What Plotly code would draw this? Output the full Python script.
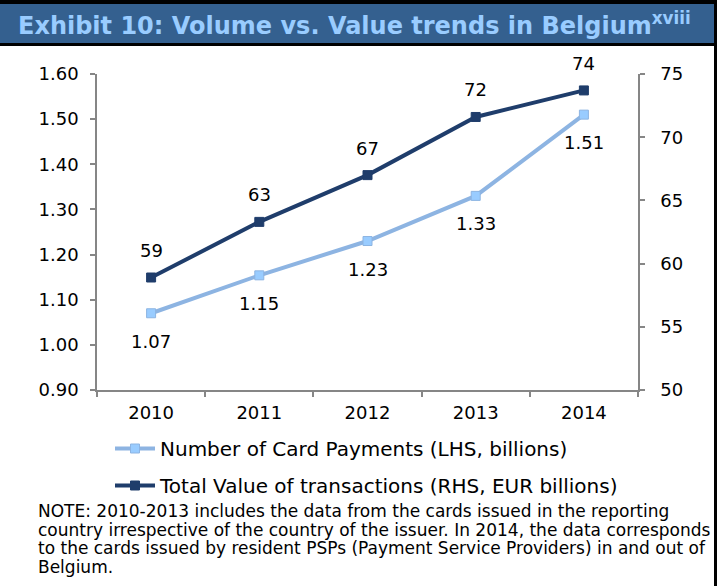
import plotly.graph_objects as go

years = ["2010", "2011", "2012", "2013", "2014"]
card_payments = [1.07, 1.154, 1.23, 1.33, 1.51]      # LHS, billions
total_value = [58.9, 63.3, 67.0, 71.6, 73.7]          # RHS, EUR billions
left_ticks = [0.90, 1.00, 1.10, 1.20, 1.30, 1.40, 1.50, 1.60]
right_ticks = [50, 55, 60, 65, 70, 75]
note_lines = [
    "NOTE: 2010-2013 includes the data from the cards issued in the reporting",
    "country irrespective of the country of the issuer. In 2014, the data corresponds",
    "to the cards issued by resident PSPs (Payment Service Providers) in and out of",
    "Belgium.",
]

W, H = 721, 586
L, R, T, B = 97, 638, 74, 390


def px2x(px):
    return (px - L) / (R - L)


def px2y(py):
    return (B - py) / (B - T)


FONT = "DejaVu Sans"
DARK = "#1F3D6B"
LIGHT = "#8DB4E2"
LIGHT_FILL = "#99CCFF"
AXIS = "#868686"

fig = go.Figure()
fig.add_trace(go.Scatter(
    x=years, y=card_payments, name="Number of Card Payments (LHS, billions)",
    mode="lines+markers", yaxis="y",
    line=dict(color=LIGHT, width=4),
    marker=dict(symbol="square", size=9, color=LIGHT_FILL, line=dict(color=LIGHT, width=1)),
    legendgroup="a",
))
fig.add_trace(go.Scatter(
    x=years, y=total_value, name="Total Value of transactions (RHS, EUR billions)",
    mode="lines+markers", yaxis="y2",
    line=dict(color=DARK, width=4),
    marker=dict(symbol="square", size=9, color=DARK, line=dict(color=DARK, width=1)),
    legendgroup="b",
))

annotations = []
for i, v in enumerate(card_payments):
    annotations.append(dict(x=i, y=v, xref="x", yref="y", text=f"{v:.2f}",
                            showarrow=False, yshift=-28,
                            font=dict(family=FONT, size=18, color="black")))
for i, v in enumerate(total_value):
    annotations.append(dict(x=i, y=v, xref="x", yref="y2", text=f"{v:.0f}",
                            showarrow=False, yshift=27,
                            font=dict(family=FONT, size=18, color="black")))

annotations.append(dict(
    x=px2x(16), y=px2y(24), xref="paper", yref="paper", xanchor="left", yanchor="middle",
    text="<b>Exhibit 10: Volume vs. Value trends in Belgium<sup>xviii</sup></b>",
    showarrow=False, font=dict(family=FONT, size=24, color="#99CCFF")))

for k, line in enumerate(note_lines):
    annotations.append(dict(
        x=px2x(36), y=px2y(511 + 18.6 * k), xref="paper", yref="paper",
        xanchor="left", yanchor="middle", align="left", showarrow=False,
        text=line, font=dict(family=FONT, size=17, color="black")))

shapes = [
    dict(type="rect", xref="paper", yref="paper", x0=px2x(0), x1=px2x(716), y0=px2y(0), y1=px2y(4),
         fillcolor="black", line=dict(width=0), layer="below"),
    dict(type="rect", xref="paper", yref="paper", x0=px2x(0), x1=px2x(716), y0=px2y(4), y1=px2y(43),
         fillcolor="#34608F", line=dict(width=0), layer="below"),
    dict(type="rect", xref="paper", yref="paper", x0=px2x(0), x1=px2x(716), y0=px2y(43), y1=px2y(46),
         fillcolor="black", line=dict(width=0), layer="below"),
    dict(type="rect", xref="paper", yref="paper", x0=px2x(714), x1=px2x(717), y0=px2y(0), y1=px2y(586),
         fillcolor="black", line=dict(width=0), layer="below"),
]

tickfont = dict(family=FONT, size=18, color="black")
fig.update_layout(
    width=W, height=H,
    margin=dict(l=L, r=W - R, t=T, b=H - B),
    paper_bgcolor="white", plot_bgcolor="white",
    showlegend=True,
    legend=dict(x=px2x(110), y=px2y(429), xanchor="left", yanchor="top",
                orientation="v", traceorder="grouped", tracegroupgap=8,
                font=dict(family=FONT, size=20, color="black"),
                bgcolor="rgba(0,0,0,0)", itemwidth=40),
    xaxis=dict(type="category", range=[-0.5, 4.5], showline=True, linecolor=AXIS, linewidth=1.5,
               ticks="outside", tickson="boundaries", ticklen=5, tickcolor=AXIS, tickwidth=1.5,
               showgrid=False, tickfont=tickfont, ticklabelstandoff=6, zeroline=False),
    yaxis=dict(range=[0.9, 1.6], tickvals=left_ticks, tickformat=".2f", showline=True,
               linecolor=AXIS, linewidth=1.5, ticks="outside", ticklen=5, tickcolor=AXIS,
               tickwidth=1.5, showgrid=False, zeroline=False, tickfont=tickfont,
               ticklabelstandoff=8),
    yaxis2=dict(range=[50, 75], tickvals=right_ticks, overlaying="y", side="right",
                showline=True, linecolor=AXIS, linewidth=1.5, ticks="outside", ticklen=5,
                tickcolor=AXIS, tickwidth=1.5, showgrid=False, zeroline=False,
                tickfont=tickfont, ticklabelstandoff=12),
    annotations=annotations,
    shapes=shapes,
)

fig.write_html("out.html", config={"displayModeBar": False},
               post_script="document.body.style.margin='0';document.body.style.overflow='hidden';")
